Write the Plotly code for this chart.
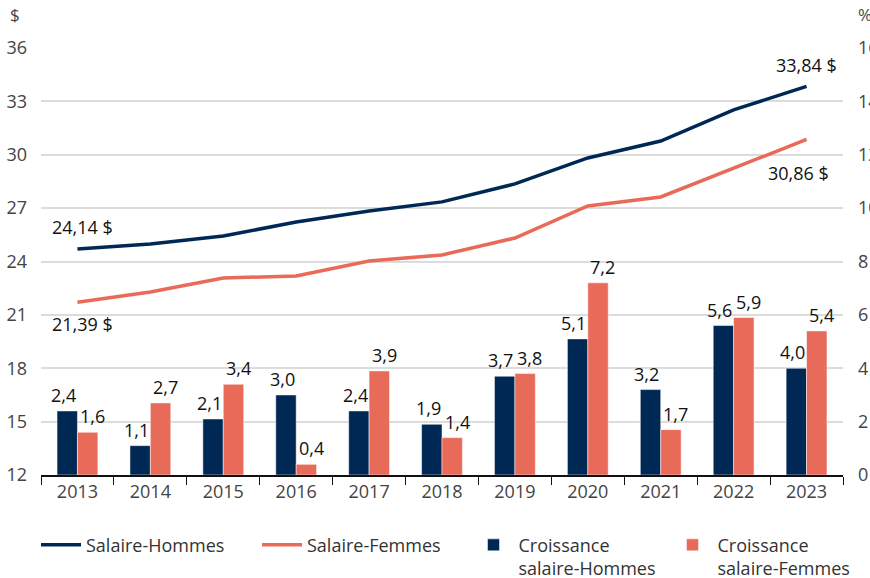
import plotly.graph_objects as go

years = ["2013", "2014", "2015", "2016", "2017", "2018", "2019", "2020", "2021", "2022", "2023"]

# hourly wage ($)
salaire_hommes = [24.70, 24.98, 25.43, 26.22, 26.84, 27.35, 28.36, 29.82, 30.77, 32.52, 33.84]
salaire_femmes = [21.71, 22.29, 23.07, 23.19, 24.03, 24.37, 25.32, 27.12, 27.63, 29.26, 30.86]

# yearly growth (%)
croissance_hommes = [2.4, 1.1, 2.1, 3.0, 2.4, 1.9, 3.7, 5.1, 3.2, 5.6, 4.0]
croissance_femmes = [1.6, 2.7, 3.4, 0.4, 3.9, 1.4, 3.8, 7.2, 1.7, 5.9, 5.4]

# end-point labels
labels_hommes = ["24,14 $", "33,84 $"]
labels_femmes = ["21,39 $", "30,86 $"]

NAVY = "#002855"
ORANGE = "#E86A58"
FONT = "Open Sans"
W, H = 870, 578
L, R, T, B = 41, 27, 48, 103

fig = go.Figure()

fig.add_trace(go.Scatter(
    x=years, y=salaire_hommes, mode="lines", name="Salaire-Hommes",
    line={"color": NAVY, "width": 3.5}, legend="legend",
))
fig.add_trace(go.Scatter(
    x=years, y=salaire_femmes, mode="lines", name="Salaire-Femmes",
    line={"color": ORANGE, "width": 3.5}, legend="legend2",
))
fig.add_trace(go.Bar(
    x=years, y=croissance_hommes, name="Croissance<br>salaire-Hommes", yaxis="y2",
    marker={"color": NAVY}, legend="legend3",
))
fig.add_trace(go.Bar(
    x=years, y=croissance_femmes, name="Croissance<br>salaire-Femmes", yaxis="y2",
    marker={"color": ORANGE}, legend="legend4",
))

last = len(years) - 1
label_font = {"family": FONT, "size": 18, "color": "#111"}
annotations = [
    {"x": 0, "y": salaire_hommes[0], "text": labels_hommes[0], "yshift": 22, "xshift": 5},
    {"x": last, "y": salaire_hommes[-1], "text": labels_hommes[-1], "yshift": 21},
    {"x": 0, "y": salaire_femmes[0], "text": labels_femmes[0], "yshift": -22, "xshift": 5},
    {"x": last, "y": salaire_femmes[-1], "text": labels_femmes[-1], "yshift": -34, "xshift": -8},
]
for a in annotations:
    a.update({"xref": "x", "yref": "y", "showarrow": False, "font": label_font})

# bar value labels, spread a little outward from each pair
for i in range(len(years)):
    for vals, dx in [(croissance_hommes, -14), (croissance_femmes, 15)]:
        annotations.append({
            "x": i, "y": vals[i], "xref": "x", "yref": "y2",
            "text": f"{vals[i]:.1f}".replace(".", ","), "showarrow": False,
            "xshift": dx, "yanchor": "bottom", "yshift": 2, "font": label_font,
        })


def px_to_paper(px, py):
    return (px - L) / (W - L - R), (H - B - py) / (H - T - B)


for txt, (px, py) in [("$", (8, 15)), ("%", (856, 15))]:
    x, y = px_to_paper(px, py)
    annotations.append({"x": x, "y": y, "xref": "paper", "yref": "paper", "text": txt,
                        "showarrow": False, "xanchor": "left", "yanchor": "middle",
                        "font": {"family": FONT, "size": 17, "color": "#444"}})


def legend_at(px):
    x, _ = px_to_paper(px, 0)
    return {"orientation": "h", "x": x, "xanchor": "left", "y": -0.121, "yanchor": "top",
            "valign": "top", "itemwidth": 40, "bgcolor": "rgba(0,0,0,0)",
            "font": {"family": FONT, "size": 18, "color": "#333"}}


fig.update_layout(
    width=W, height=H,
    template="plotly_white",
    separators=", ",
    font={"family": FONT, "size": 18, "color": "#444"},
    margin={"l": L, "r": R, "t": T, "b": B, "autoexpand": False},
    barmode="group", bargap=0.44, bargroupgap=0,
    plot_bgcolor="white", paper_bgcolor="white",
    showlegend=True,
    legend=legend_at(36),
    legend2=legend_at(257),
    legend3=legend_at(468.5),
    legend4=legend_at(667.5),
    annotations=annotations,
    xaxis={"type": "category", "range": [-0.5, last + 0.5], "showgrid": False,
           "showline": True, "linecolor": "#111", "linewidth": 1.5, "ticks": "outside",
           "tickson": "boundaries", "ticklen": 8, "tickcolor": "#111",
           "tickfont": {"size": 18, "color": "#444"}, "automargin": False},
    yaxis={"range": [12, 36], "dtick": 3, "showgrid": True, "gridcolor": "#dcdcdc",
           "gridwidth": 1.5, "zeroline": False, "ticklabelstandoff": 13,
           "tickfont": {"size": 18, "color": "#444"}, "automargin": False},
    yaxis2={"range": [0, 16], "dtick": 2, "overlaying": "y", "side": "right",
            "showgrid": False, "zeroline": False, "ticklabelstandoff": 14,
            "tickfont": {"size": 18, "color": "#444"}, "automargin": False},
)

# the page body has a default 8px margin; drop it so the figure sits at the window origin
fig.write_html("out.html", config={"displayModeBar": False},
               post_script="document.body.style.margin='0';")
